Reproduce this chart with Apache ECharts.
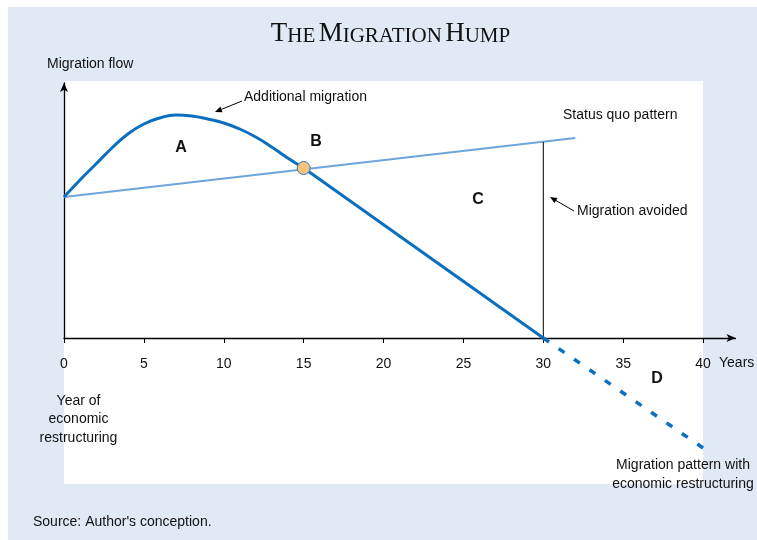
<!DOCTYPE html>
<html><head><meta charset="utf-8">
<script src="https://cdn.jsdelivr.net/npm/echarts@6/dist/echarts.min.js"></script>
<style>html,body{margin:0;padding:0;background:#fff}#c{width:757px;height:540px}</style>
</head><body><div id="c"></div>
<script>
// ---- data ----
const years = [0,1,2,3,4,5,6,7,8,9,10,11,12,13,14,15];
const humpValues = [14.1,15.8,17.4,19.0,20.4,21.4,22.0,22.3,22.2,21.9,21.5,20.9,20.1,19.1,18.0,17.0];
const declinePoints = [[15,17.0],[30,0]];
const projectedPoints = [[30,0],[40,-11.0]];
const statusQuoPoints = [[0,14.1],[32,20.0]];
const avoidedLine = [[30,0],[30,19.6]];
const crossingPoint = [[15,17.0]];
const xTicks = [0,5,10,15,20,25,30,35,40];

// ---- chart ----
const chart = echarts.init(document.getElementById('c'), null, {renderer:'canvas'});
const SANS = 'Liberation Sans, Arial, sans-serif';
const SERIF = 'Liberation Serif, Times New Roman, serif';

function arrow(x1,y1,x2,y2){
  const dx=x2-x1, dy=y2-y1, L=Math.hypot(dx,dy), ux=dx/L, uy=dy/L;
  const hl=7, hw=3;
  const bx=x2-ux*hl, by=y2-uy*hl;
  return [
    {type:'line', z:10, shape:{x1:x1,y1:y1,x2:bx,y2:by}, style:{stroke:'#000', lineWidth:1}},
    {type:'polygon', z:10, shape:{points:[[x2,y2],[bx-uy*hw,by+ux*hw],[bx+uy*hw,by-ux*hw]]}, style:{fill:'#000'}}
  ];
}
function txt(x,y,text,extra){
  return {type:'text', z:10, style:Object.assign({x:x,y:y,text:text,font:'14px '+SANS,fill:'#111',align:'left',verticalAlign:'middle'}, extra||{})};
}

const lineBlue = '#0B6FBF';
const option = {
  backgroundColor:'#fff',
  animation:false,
  grid:{left:64, right:21.5, top:83, bottom:202},
  xAxis:{
    type:'value', min:0, max:42.03,
    axisLine:{show:true, symbol:['none','arrow'], symbolSize:[6,9], lineStyle:{color:'#000', width:1.3}},
    axisTick:{show:true, customValues:xTicks, length:5, lineStyle:{color:'#000', width:1}},
    axisLabel:{customValues:xTicks, margin:19, fontSize:14, color:'#111', fontFamily:SANS},
    splitLine:{show:false}
  },
  yAxis:{
    type:'value', min:0, max:25.5,
    axisLine:{show:true, symbol:['none','arrow'], symbolSize:[6,9], lineStyle:{color:'#000', width:1.3}},
    axisTick:{show:false}, axisLabel:{show:false}, splitLine:{show:false}
  },
  series:[
    {type:'line', data:statusQuoPoints, symbol:'none', z:2, lineStyle:{color:'#6FA6DA', width:2}},
    {type:'line', data:avoidedLine, symbol:'none', z:2, lineStyle:{color:'#000', width:1}},
    {type:'line', data:years.map((x,i)=>[x,humpValues[i]]), smooth:0.5, symbol:'none', z:3, lineStyle:{color:lineBlue, width:3}},
    {type:'line', data:declinePoints, symbol:'none', z:3, lineStyle:{color:lineBlue, width:3}},
    {type:'line', data:projectedPoints, symbol:'none', z:3, clip:false, lineStyle:{color:lineBlue, width:3.5, type:[7,11.7], dashOffset:0}},
    {type:'scatter', data:crossingPoint, symbolSize:13, z:5, itemStyle:{color:'#F8C37D', borderColor:'#2F78BD', borderWidth:1, opacity:1}}
  ],
  graphic:[
    {type:'rect', z:-10, silent:true, shape:{x:8,y:7,width:749,height:533}, style:{fill:'#E1E9F4'}},
    {type:'rect', z:-9, silent:true, shape:{x:64,y:81,width:639,height:403}, style:{fill:'#fff'}},
    {type:'text', z:10, style:{x:390.5, y:47, align:'center', verticalAlign:'bottom',
      text:'{b|T}{s|HE} {b|M}{s|IGRATION} {b|H}{s|UMP}',
      rich:{b:{fontSize:27, fontFamily:SERIF, fill:'#111', verticalAlign:'bottom'}, s:{fontSize:21, fontFamily:SERIF, fill:'#111', verticalAlign:'bottom'}}}},
    txt(47,64,'Migration flow'),
    txt(244,97,'Additional migration'),
    txt(563,115,'Status quo pattern'),
    txt(577,211,'Migration avoided'),
    txt(719,363,'Years'),
    txt(78.5,419.5,'Year of\neconomic\nrestructuring',{align:'center', lineHeight:18.5}),
    txt(683,474.5,'Migration pattern with\neconomic restructuring',{align:'center', lineHeight:19}),
    txt(33,522,"Source: Author's conception."),
    txt(181,148,'A',{font:'bold 16px '+SANS, align:'center'}),
    txt(316,142,'B',{font:'bold 16px '+SANS, align:'center'}),
    txt(478,200,'C',{font:'bold 16px '+SANS, align:'center'}),
    txt(657,379,'D',{font:'bold 16px '+SANS, align:'center'})
  ].concat(arrow(242,101,215,112), arrow(574,211,550,197))
};
chart.setOption(option);
</script></body></html>
